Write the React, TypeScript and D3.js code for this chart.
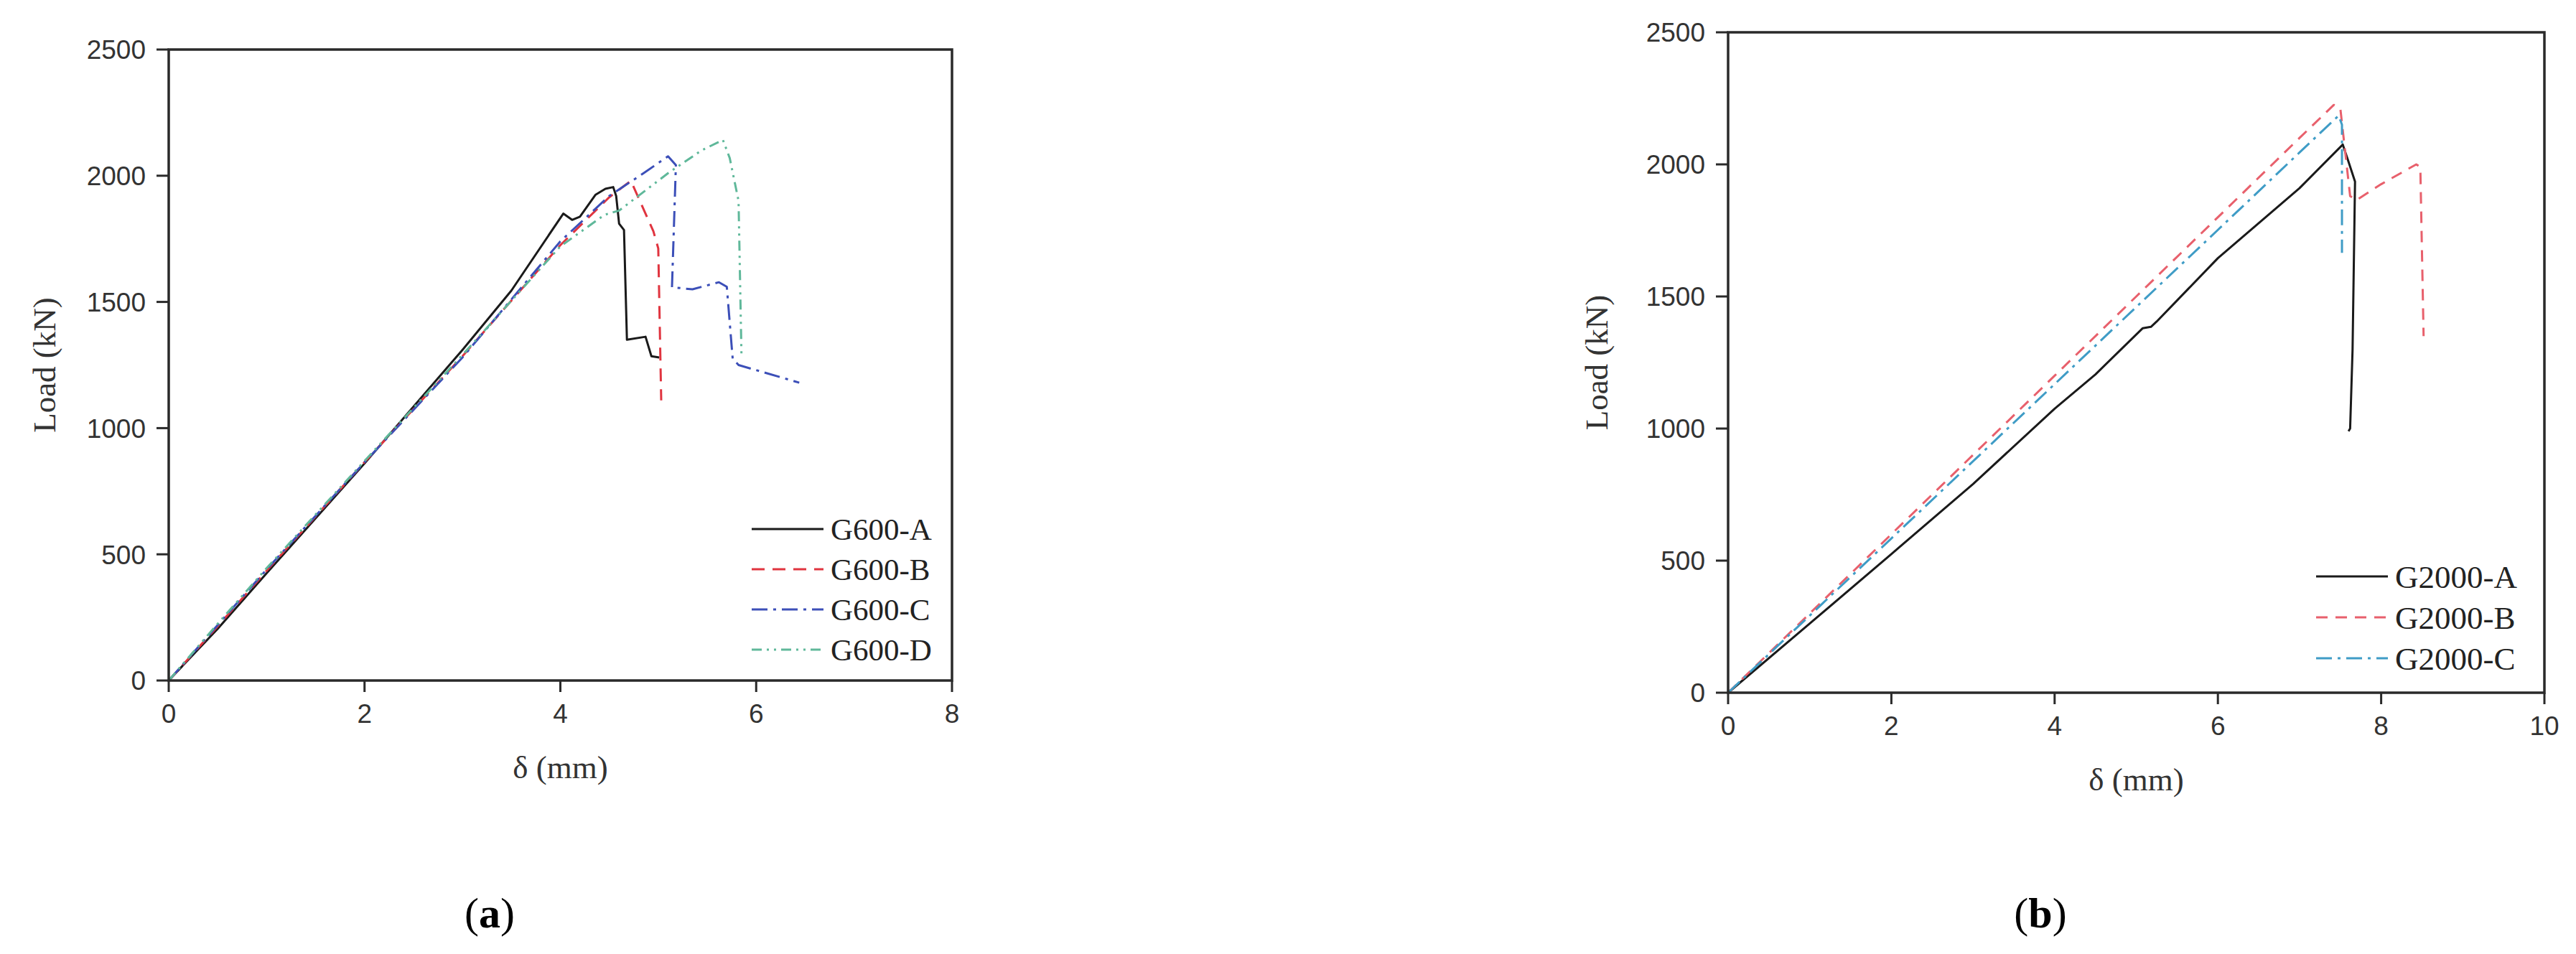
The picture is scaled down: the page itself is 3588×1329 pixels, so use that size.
import * as d3 from "d3";

// G600 specimens, delta (mm) vs load (kN)
const g600Labels = ["G600-A", "G600-B", "G600-C", "G600-D"];
const g600A = [
  [0, 0], [0.5, 205], [1, 425], [2, 860], [3, 1310], [3.5, 1545], [4.03, 1850],
  [4.12, 1825], [4.2, 1838], [4.36, 1925], [4.46, 1948], [4.54, 1955], [4.57, 1920],
  [4.6, 1810], [4.65, 1785], [4.68, 1350], [4.87, 1362], [4.93, 1285], [5.01, 1280],
];
const g600B = [
  [0, 0], [0.5, 215], [1, 435], [2, 865], [3, 1285], [4, 1725], [4.5, 1915],
  [4.72, 1980], [4.95, 1780], [5.0, 1712], [5.03, 1110],
];
const g600C = [
  [0, 0], [0.5, 220], [1, 440], [2, 865], [3, 1280], [4, 1740], [4.5, 1920],
  [4.85, 2010], [5.1, 2077], [5.18, 2042], [5.14, 1558], [5.35, 1550], [5.62, 1578],
  [5.7, 1560], [5.76, 1275], [5.82, 1250], [6.44, 1180],
];
const g600D = [
  [0, 0], [0.5, 225], [1, 445], [2, 870], [3, 1290], [4, 1720], [4.45, 1845],
  [4.6, 1862], [5.1, 2010], [5.44, 2100], [5.66, 2142], [5.73, 2070], [5.82, 1900],
  [5.85, 1285],
];

// G2000 specimens
const g2000Labels = ["G2000-A", "G2000-B", "G2000-C"];
const g2000A = [
  [0, 0], [1, 262], [2, 525], [3, 790], [4, 1075], [4.5, 1205], [5.08, 1380],
  [5.18, 1385], [5.25, 1405], [6, 1645], [7, 1910], [7.53, 2075], [7.6, 2010],
  [7.68, 1935], [7.65, 1300], [7.62, 1000], [7.6, 990],
];
const g2000B = [
  [0, 0], [1, 300], [2, 600], [3, 900], [4, 1200], [5, 1500], [6, 1800], [7, 2100],
  [7.42, 2225], [7.5, 2212], [7.62, 1880], [7.7, 1865], [8.0, 1925], [8.43, 2000],
  [8.48, 1990], [8.52, 1350],
];
const g2000C = [
  [0, 0], [1, 292], [2, 584], [3, 876], [4, 1168], [5, 1460], [6, 1752], [7, 2045],
  [7.48, 2185], [7.52, 2150], [7.52, 1665],
];

const yTickValues = [0, 500, 1000, 1500, 2000, 2500];
const g600XTicks = [0, 2, 4, 6, 8];
const g2000XTicks = [0, 2, 4, 6, 8, 10];

const SANS = "'Liberation Sans', Arial, sans-serif";
const SERIF = "'Liberation Serif', 'Times New Roman', serif";
const AXIS = "#2a2a2a";

function Panel({
  left, right, top, bottom, xMax, xTicks, series,
  legendX, legendY, legendGap, legendSize,
  titleOffset, captionX, captionLetter,
}) {
  const x = d3.scaleLinear().domain([0, xMax]).range([left, right]);
  const y = d3.scaleLinear().domain([0, 2500]).range([bottom, top]);
  const line = d3.line().x((d) => x(d[0])).y((d) => y(d[1]));

  return (
    <g>
      {series.map((s) => (
        <path
          key={s.label}
          d={line(s.pts)}
          fill="none"
          stroke={s.color}
          strokeWidth={3}
          strokeDasharray={s.dash}
          strokeLinejoin="round"
        />
      ))}

      <rect x={left} y={top} width={right - left} height={bottom - top}
        fill="none" stroke={AXIS} strokeWidth={3.5} />

      {yTickValues.map((v) => (
        <g key={"y" + v}>
          <line x1={left - 17} x2={left} y1={y(v)} y2={y(v)} stroke={AXIS} strokeWidth={3} />
          <text x={left - 32} y={y(v)} dy="0.36em" textAnchor="end"
            fontFamily={SANS} fontSize={37} fill="#333">{v}</text>
        </g>
      ))}

      {xTicks.map((v) => (
        <g key={"x" + v}>
          <line x1={x(v)} x2={x(v)} y1={bottom} y2={bottom + 16} stroke={AXIS} strokeWidth={3} />
          <text x={x(v)} y={bottom + 59} textAnchor="middle"
            fontFamily={SANS} fontSize={37} fill="#333">{v}</text>
        </g>
      ))}

      <text transform={`translate(${left - titleOffset},${(top + bottom) / 2}) rotate(-90)`}
        textAnchor="middle" dy="0.35em" fontFamily={SERIF} fontSize={45} fill="#333">
        Load (kN)
      </text>
      <text x={(left + right) / 2} y={bottom + 136} textAnchor="middle"
        fontFamily={SERIF} fontSize={45} fill="#333">
        δ (mm)
      </text>

      {series.map((s, i) => (
        <g key={"lg" + s.label}>
          <line x1={legendX} x2={legendX + 100} y1={legendY + i * legendGap} y2={legendY + i * legendGap}
            stroke={s.color} strokeWidth={3} strokeDasharray={s.dash} />
          <text x={legendX + 110} y={legendY + i * legendGap} dy="0.35em"
            fontFamily={SERIF} fontSize={legendSize} fill="#222">{s.label}</text>
        </g>
      ))}

      <text x={captionX} y={1292} textAnchor="middle" fontFamily={SERIF} fontSize={60} fill="#000">
        (<tspan fontWeight="bold">{captionLetter}</tspan>)
      </text>
    </g>
  );
}

export default function App() {
  const seriesA = [
    { label: g600Labels[0], pts: g600A, color: "#1a1a1a", dash: null },
    { label: g600Labels[1], pts: g600B, color: "#e0343f", dash: "18,11" },
    { label: g600Labels[2], pts: g600C, color: "#3c4fb8", dash: "22,8,4,8" },
    { label: g600Labels[3], pts: g600D, color: "#5fb89a", dash: "14,7,3,7,3,7" },
  ];
  const seriesB = [
    { label: g2000Labels[0], pts: g2000A, color: "#1a1a1a", dash: null },
    { label: g2000Labels[1], pts: g2000B, color: "#e8606c", dash: "16,11" },
    { label: g2000Labels[2], pts: g2000C, color: "#3f9cc6", dash: "22,8,4,8" },
  ];

  return (
    <>
      <style>{"body{margin:0;background:#fff}"}</style>
      <svg width={3588} height={1329} style={{ display: "block", background: "#fff" }}>
        <Panel left={235} right={1326} top={69} bottom={948} xMax={8} xTicks={g600XTicks}
          series={seriesA} legendX={1047} legendY={737} legendGap={56} legendSize={43}
          titleOffset={174} captionX={682} captionLetter="a" />
        <Panel left={2407} right={3544} top={45} bottom={965} xMax={10} xTicks={g2000XTicks}
          series={seriesB} legendX={3226} legendY={803} legendGap={57} legendSize={45}
          titleOffset={184} captionX={2842} captionLetter="b" />
      </svg>
    </>
  );
}
